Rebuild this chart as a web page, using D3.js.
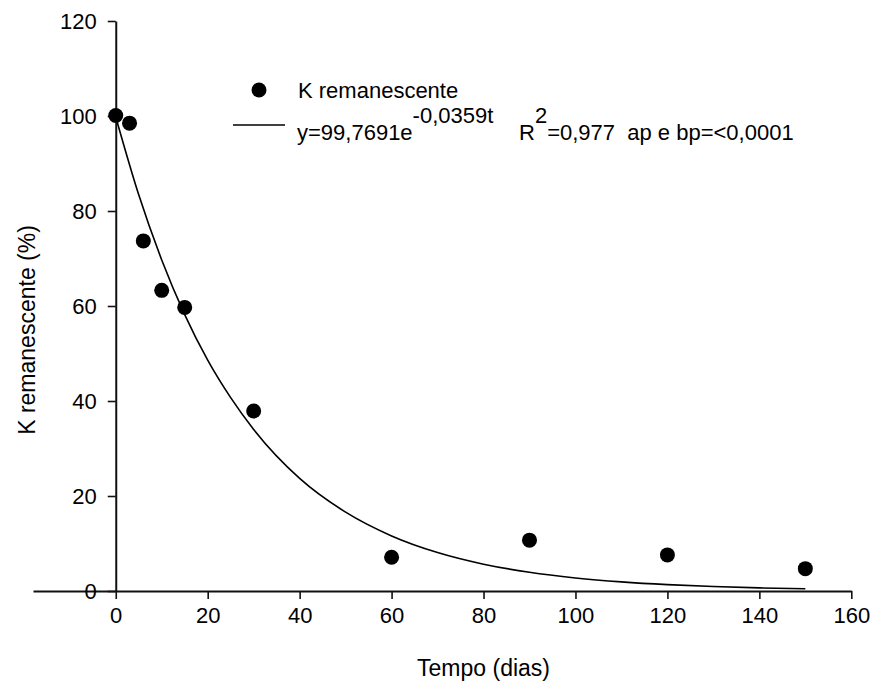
<!DOCTYPE html>
<html>
<head>
<meta charset="utf-8">
<script src="https://cdn.jsdelivr.net/npm/d3@7"></script>
<style>
    body { margin: 0; background: #fff; }
    text { font-family: "Liberation Sans", Arial, sans-serif; fill: #000; }
</style>
</head>
<body>
<div id="chart"></div>
<script>
// observed points
const days = [0, 3, 6, 10, 15, 30, 60, 90, 120, 150];
const kRemanescente = [100.1, 98.5, 73.7, 63.3, 59.7, 37.9, 7.1, 10.7, 7.6, 4.7];

// fitted curve
const fitDays = [0, 5, 10, 15, 20, 25, 30, 40, 50, 60, 70, 80, 90, 100, 110, 120, 130, 140, 150];
const fitValues = [99.8, 83.4, 69.7, 58.2, 48.6, 40.7, 34.0, 23.7, 16.6, 11.6, 8.1, 5.65, 3.94, 2.75, 1.92, 1.34, 0.94, 0.65, 0.46];

const xTicks = [0, 20, 40, 60, 80, 100, 120, 140, 160];
const yTicks = [0, 20, 40, 60, 80, 100, 120];

const width = 872, height = 684;
const fontSize = 22;

const svg = d3.select("#chart")
    .append("svg")
    .attr("width", width)
    .attr("height", height);

// scales
const x = d3.scaleLinear().domain([-18, 160]).range([33, 851.3]);
const y = d3.scaleLinear().domain([0, 120]).range([591, 21]);

// X axis
const xAxis = svg.append("g")
    .attr("transform", `translate(0, ${y(0)})`)
    .call(d3.axisBottom(x).tickValues(xTicks).tickSize(8).tickPadding(8).tickSizeOuter(0));
xAxis.select(".domain").attr("stroke", "#111").attr("stroke-width", 2);
xAxis.selectAll(".tick line").attr("stroke", "#111").attr("stroke-width", 1.6);
xAxis.selectAll(".tick text").attr("font-size", fontSize).attr("font-family", "Liberation Sans, Arial, sans-serif");

// Y axis
const yAxis = svg.append("g")
    .attr("transform", `translate(${x(0)}, 0)`)
    .call(d3.axisLeft(y).tickValues(yTicks).tickSize(8).tickPadding(11).tickSizeOuter(0));
yAxis.select(".domain").attr("stroke", "#111").attr("stroke-width", 2);
yAxis.selectAll(".tick line").attr("stroke", "#111").attr("stroke-width", 1.6);
yAxis.selectAll(".tick text").attr("font-size", fontSize).attr("font-family", "Liberation Sans, Arial, sans-serif");

// axis titles
svg.append("text")
    .attr("x", x(80))
    .attr("y", 676)
    .attr("text-anchor", "middle")
    .attr("font-size", 23)
    .text("Tempo (dias)");

svg.append("text")
    .attr("transform", `translate(35, ${(y(0) + y(120)) / 2 + 24}) rotate(-90)`)
    .attr("text-anchor", "middle")
    .attr("font-size", 23)
    .text("K remanescente (%)");

// fitted curve
const fitLine = d3.line()
    .x(function (d, i) { return x(fitDays[i]); })
    .y(function (d) { return y(d); })
    .curve(d3.curveMonotoneX);

svg.append("path")
    .datum(fitValues)
    .attr("fill", "none")
    .attr("stroke", "#000")
    .attr("stroke-width", 1.6)
    .attr("d", fitLine);

// points
svg.selectAll("circle.pt")
    .data(kRemanescente)
    .join("circle")
    .attr("class", "pt")
    .attr("cx", function (d, i) { return x(days[i]); })
    .attr("cy", function (d) { return y(d); })
    .attr("r", 7.5)
    .attr("fill", "#000");

// legend
const legend = svg.append("g");
legend.append("circle")
    .attr("cx", 259).attr("cy", 90).attr("r", 7.5).attr("fill", "#000");
legend.append("text")
    .attr("x", 298).attr("y", 98)
    .attr("font-size", fontSize)
    .text("K remanescente");

legend.append("line")
    .attr("x1", 233).attr("x2", 285)
    .attr("y1", 125).attr("y2", 125)
    .attr("stroke", "#000").attr("stroke-width", 1.6);

const eq = legend.append("text")
    .attr("x", 297).attr("y", 140)
    .attr("font-size", fontSize)
    .style("white-space", "pre");
eq.append("tspan").text("y=99,7691e");
eq.append("tspan").attr("dy", -17).text("-0,0359t");
eq.append("tspan").attr("dy", 17).attr("x", 519).text("R");
eq.append("tspan").attr("dy", -17).text("2");
eq.append("tspan").attr("dy", 17).text("=0,977  ap e bp=<0,0001");
</script>
</body>
</html>
